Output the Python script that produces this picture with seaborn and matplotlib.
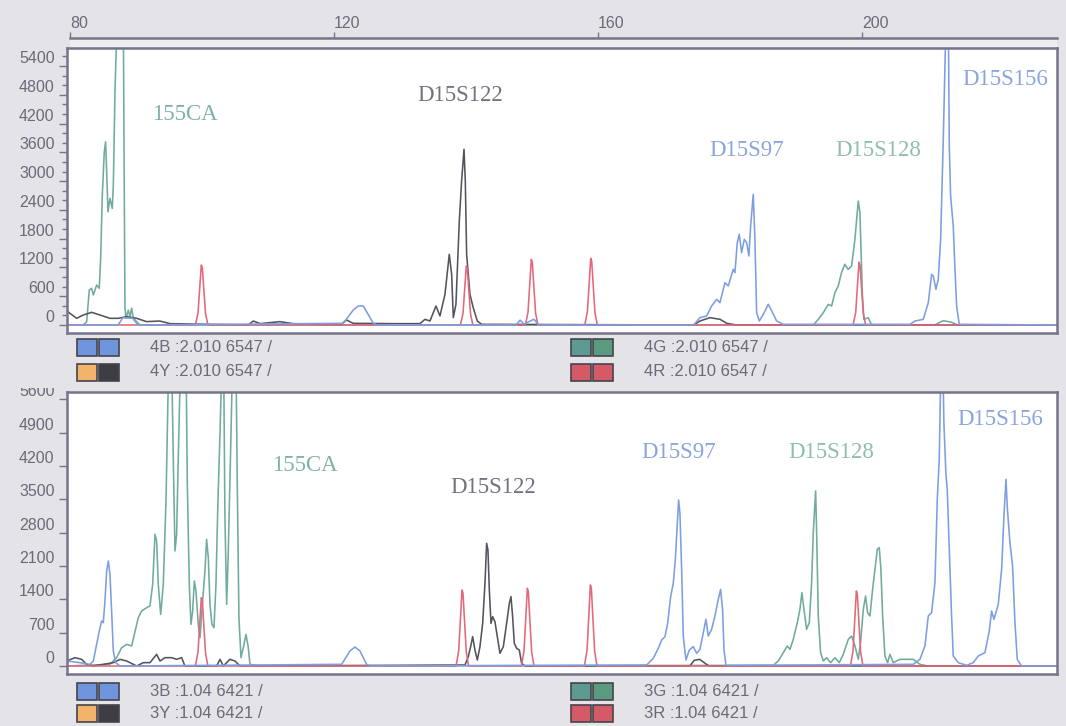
import pandas as pd
import seaborn as sns
import matplotlib.pyplot as plt
from matplotlib.patches import Rectangle
from matplotlib.ticker import MultipleLocator

# --- DONNEES (taille en pb, intensite en RFU) ---
SIZE_TICKS = [80, 120, 160, 200]
TOP_YTICKS = [0, 600, 1200, 1800, 2400, 3000, 3600, 4200, 4800, 5400]
BOT_YTICKS = [0, 700, 1400, 2100, 2800, 3500, 4200, 4900, 5600]

# run 4 (panneau du haut)
TOP_GREEN = [(79.5, 0), (82.0, 0), (82.53, 70), (82.93, 730), (83.28, 765), (83.54, 625), (84.04, 834),
             (84.44, 765), (84.65, 1390), (84.90, 2710), (85.20, 3614), (85.40, 3820), (85.61, 2990),
             (85.76, 2360), (86.06, 2640), (86.41, 2430), (86.57, 2920), (86.82, 4865), (87.17, 6500),
             (87.6, 9000), (88.08, 6500), (88.18, 3960), (88.33, 350), (88.48, 140), (88.84, 310),
             (89.09, 175), (89.34, 350), (89.6, 140), (90.6, 0), (192.62, 0), (193.38, 118), (194.14, 257),
             (194.9, 430), (195.4, 396), (195.9, 674), (196.4, 813), (196.9, 1091), (197.4, 1265),
             (197.9, 1160), (198.43, 1230), (198.93, 1786), (199.44, 2585), (199.69, 2342), (200.05, 674),
             (200.3, 118), (200.95, 153), (201.46, 0), (211.0, 0), (212.3, 90), (213.5, 60), (214.5, 0),
             (229.6, 0)]
TOP_BLACK = [(79.5, 300), (80.0, 243), (81.01, 139), (82.02, 208), (83.28, 264), (84.55, 208), (86.06, 139),
             (87.32, 139), (88.59, 174), (90.1, 139), (91.6, 70), (93.6, 83), (95.15, 28), (107.0, 0),
             (107.78, 83), (108.8, 28), (111.8, 70), (113.8, 28), (121.0, 0), (121.9, 104), (122.9, 35),
             (129.0, 28), (133.03, 28), (133.79, 118), (134.55, 83), (135.45, 396), (136.06, 188),
             (136.82, 640), (137.47, 1473), (137.83, 1056), (138.08, 153), (138.48, 431), (138.99, 2168),
             (139.34, 3002), (139.7, 3663), (139.9, 3002), (140.1, 1473), (140.6, 640), (141.1, 361),
             (141.72, 83), (142.37, 14), (174.5, 0), (175.45, 83), (176.97, 153), (178.5, 118), (179.5, 35),
             (181.0, 0), (229.6, 0)]
TOP_RED = [(79.5, 0), (99.0, 0), (99.4, 250), (99.65, 750), (99.9, 1251), (100.05, 1200), (100.3, 700),
           (100.55, 230), (100.9, 0), (139.15, 0), (139.55, 240), (139.8, 740), (140.05, 1230),
           (140.2, 1180), (140.45, 690), (140.7, 220), (141.05, 0), (149.0, 0), (149.4, 270), (149.65, 820),
           (149.9, 1369), (150.05, 1310), (150.3, 770), (150.55, 250), (150.9, 0), (158.0, 0), (158.4, 280),
           (158.65, 830), (158.9, 1390), (159.05, 1330), (159.3, 780), (159.55, 250), (159.9, 0),
           (198.65, 0), (199.05, 260), (199.3, 790), (199.55, 1310), (199.7, 1260), (199.95, 740),
           (200.2, 240), (200.55, 0), (229.6, 0)]
TOP_BLUE = [(79.5, 0), (87.3, 0), (88.0, 150), (89.5, 140), (90.3, 0), (121.4, 35), (122.93, 313),
            (123.69, 396), (124.45, 396), (125.96, 35), (126.5, 0), (147.6, 0), (148.2, 100), (148.8, 20),
            (150.3, 120), (151.0, 0), (174.5, 0), (175.45, 153), (176.46, 188), (177.22, 396), (177.98, 535),
            (178.48, 466), (179.24, 883), (179.74, 813), (180.5, 1161), (180.75, 1091), (181.11, 1717),
            (181.41, 1890), (181.76, 1508), (182.17, 1786), (182.52, 1717), (182.87, 1439), (183.13, 2064),
            (183.53, 2724), (183.78, 1786), (184.04, 257), (184.44, 83), (185.05, 222), (185.8, 431),
            (186.46, 257), (187.07, 83), (188.08, 14), (207.27, 14), (208.03, 83), (209.29, 118),
            (210.05, 466), (210.55, 1056), (210.8, 1022), (211.21, 744), (211.56, 952), (211.92, 1786),
            (212.32, 3871), (212.67, 6000), (212.85, 7500), (213.08, 6500), (213.23, 3733), (213.43, 2690),
            (213.83, 2064), (214.09, 1161), (214.34, 396), (214.74, 14), (229.6, 0)]

# run 3 (panneau du bas)
BOT_GREEN = [(79.5, 0), (86.06, 35), (87.07, 175), (87.83, 385), (88.59, 455), (89.34, 420), (90.35, 1015),
             (90.86, 1155), (91.62, 1225), (92.12, 1260), (92.53, 1715), (92.88, 2765), (93.13, 2625),
             (93.38, 1715), (93.74, 1085), (94.14, 1715), (94.55, 3465), (94.9, 6000), (95.15, 7800),
             (95.4, 6500), (95.66, 4305), (95.91, 2415), (96.16, 2765), (96.41, 4375), (96.77, 6500),
             (97.1, 7500), (97.58, 6500), (97.78, 3815), (98.08, 1715), (98.33, 875), (98.59, 1155),
             (98.84, 1785), (99.09, 1575), (99.44, 875), (99.7, 595), (100.1, 1365), (100.45, 1995),
             (100.7, 2660), (100.96, 2275), (101.21, 1295), (101.51, 875), (101.82, 805), (102.12, 1715),
             (102.42, 3465), (102.73, 4865), (103.03, 6500), (103.25, 7000), (103.48, 3115), (103.74, 1295),
             (103.99, 2415), (104.34, 4515), (104.65, 6500), (104.9, 7200), (105.15, 6500), (105.35, 3815),
             (105.6, 1015), (105.91, 175), (106.26, 385), (106.67, 665), (107.02, 385), (107.27, 35),
             (108.8, 0), (186.56, 14), (187.32, 105), (188.08, 280), (188.68, 420), (189.09, 350),
             (189.59, 560), (190.2, 910), (190.6, 1190), (190.9, 1540), (191.21, 1190), (191.61, 770),
             (192.02, 910), (192.37, 1750), (192.62, 2800), (192.98, 3675), (193.13, 2800), (193.38, 1050),
             (193.73, 280), (194.14, 105), (194.64, 175), (195.25, 70), (195.9, 175), (196.56, 70),
             (197.17, 245), (197.93, 560), (198.43, 630), (198.94, 420), (199.44, 140), (199.79, 490),
             (200.2, 1190), (200.55, 1470), (200.85, 1120), (201.21, 1050), (201.61, 1610), (201.97, 2030),
             (202.32, 2450), (202.62, 2485), (202.87, 2030), (203.13, 1050), (203.48, 210), (203.88, 70),
             (204.24, 245), (204.74, 70), (205.75, 140), (207.77, 140), (208.78, 35), (210.0, 0), (229.6, 0)]
BOT_BLACK = [(79.5, 105), (80.76, 175), (81.77, 140), (82.53, 35), (83.54, 0), (86.57, 70), (87.58, 140),
             (88.59, 105), (90.1, 0), (91.11, 70), (92.12, 70), (93.13, 245), (93.64, 105), (94.4, 175),
             (95.4, 175), (96.16, 140), (96.92, 175), (97.42, 0), (102.22, 0), (102.73, 140), (103.23, 0),
             (104.24, 140), (105.0, 105), (105.76, 0), (139.85, 21), (140.35, 196), (140.71, 406),
             (141.01, 616), (141.36, 336), (141.72, 126), (142.12, 406), (142.53, 896), (142.88, 1736),
             (143.13, 2576), (143.33, 2436), (143.54, 1596), (143.79, 896), (144.04, 1036), (144.39, 931),
             (144.75, 616), (145.15, 266), (145.66, 406), (146.16, 896), (146.57, 1316), (146.82, 1456),
             (147.07, 1036), (147.32, 476), (147.68, 371), (148.08, 336), (148.43, 56), (148.94, 0),
             (173.9, 0), (174.6, 120), (175.4, 140), (176.2, 60), (176.8, 0), (229.6, 0)]
BOT_RED = [(79.5, 0), (99.0, 0), (99.4, 290), (99.65, 860), (99.9, 1435), (100.05, 1380), (100.3, 800),
           (100.55, 260), (100.9, 0), (138.5, 0), (138.9, 320), (139.15, 960), (139.4, 1596), (139.55, 1530),
           (139.8, 900), (140.05, 290), (140.4, 0), (148.4, 0), (148.8, 330), (149.05, 980), (149.3, 1631),
           (149.45, 1560), (149.7, 920), (149.95, 300), (150.3, 0), (157.95, 0), (158.35, 340), (158.6, 1020),
           (158.85, 1701), (159.0, 1630), (159.25, 960), (159.5, 310), (159.85, 0), (198.25, 0),
           (198.65, 320), (198.9, 950), (199.15, 1575), (199.3, 1510), (199.55, 890), (199.8, 290),
           (200.15, 0), (229.6, 0)]
BOT_BLUE = [(79.5, 105), (81.5, 70), (83.03, 35), (83.54, 105), (84.04, 455), (84.44, 735), (84.8, 945),
            (85.05, 910), (85.3, 1365), (85.56, 1995), (85.81, 2205), (86.06, 1925), (86.31, 1155),
            (86.57, 315), (86.92, 70), (87.58, 0), (121.16, 35), (122.42, 315), (123.18, 399), (123.94, 315),
            (124.95, 35), (125.46, 0), (167.37, 21), (168.38, 161), (169.14, 371), (169.65, 546),
            (170.15, 616), (170.56, 896), (171.01, 1456), (171.41, 1736), (171.72, 2226), (172.02, 2996),
            (172.22, 3486), (172.42, 3206), (172.68, 2016), (172.93, 616), (173.33, 126), (173.84, 336),
            (174.44, 406), (174.95, 266), (175.45, 350), (175.96, 700), (176.36, 980), (176.71, 630),
            (177.22, 770), (177.72, 1050), (178.23, 1400), (178.58, 1610), (178.88, 1190), (179.09, 350),
            (179.39, 14), (207.77, 35), (208.78, 140), (209.54, 420), (210.05, 1050), (210.55, 1120),
            (211.06, 1750), (211.41, 3500), (211.71, 4340), (211.92, 6000), (212.17, 7000), (212.42, 5075),
            (212.72, 4025), (212.92, 3710), (213.23, 2450), (213.58, 1050), (213.83, 210), (214.59, 70),
            (215.85, 14), (216.86, 70), (217.62, 210), (218.63, 280), (219.29, 735), (219.64, 1155),
            (220.0, 980), (220.65, 1295), (221.16, 2030), (221.51, 3150), (221.82, 3920), (222.02, 3325),
            (222.42, 2590), (222.82, 2100), (223.18, 910), (223.53, 140), (224.19, 0), (229.6, 0)]

# noms des marqueurs et leur ancrage (pb, RFU)
MARKERS = ["155CA", "D15S122", "D15S97", "D15S128", "D15S156"]
TOP_MARKER_POS = [(92.4, 4380), (132.6, 4775), (176.8, 3630), (195.9, 3630), (215.15, 5110)]
BOT_MARKER_POS = [(110.6, 4220), (137.7, 3740), (166.5, 4475), (188.8, 4475), (214.5, 5170)]

TOP_LEGEND = ["4B :2.010 6547 /", "4Y :2.010 6547 /", "4G :2.010 6547 /", "4R :2.010 6547 /"]
BOT_LEGEND = ["3B :1.04 6421 /", "3Y :1.04 6421 /", "3G :1.04 6421 /", "3R :1.04 6421 /"]

# --- STYLE ---
W, H = 1066, 726
BG = "#e4e3e8"
SPINE = "#77738a"
TXT = "#6b6a78"
C_BLUE, C_GREEN, C_RED, C_BLACK = "#7d9ee0", "#6fab9e", "#e2687a", "#55545e"
MARKER_COLORS = ["#7fb2aa", "#727180", "#8aa4dc", "#8fbdb0", "#8aa4dc"]
SWATCHES = [("#6f95dc", "#6f95dc"), ("#f2b46a", "#3d3d44"), ("#5d9a92", "#5a9a7e"), ("#d45a68", "#d45a68")]

sns.set_theme(style="white")
plt.rcParams["font.family"] = ["Liberation Sans", "DejaVu Sans"]

fig = plt.figure(figsize=(W / 100, H / 100), dpi=100, facecolor=BG)


def box(x0, y0, x1, y1):
    return [x0 / W, 1 - y1 / H, (x1 - x0) / W, (y1 - y0) / H]


def draw_panel(rect, ylim, yticks, traces, marker_pos, minor=None):
    ax = fig.add_axes(rect)
    ax.set_facecolor("white")
    for pts, color in traces:
        df = pd.DataFrame(pts, columns=["bp", "rfu"])
        sns.lineplot(data=df, x="bp", y="rfu", ax=ax, color=color, lw=1.15,
                     estimator=None, sort=False)
    ax.set_xlim(79.55, 229.55)
    ax.set_ylim(*ylim)
    ax.set_xticks([])
    ax.set_yticks(yticks)
    if minor:
        ax.yaxis.set_minor_locator(MultipleLocator(minor))
    ax.tick_params(axis="y", which="major", direction="out", length=6, width=1,
                   color=SPINE, labelsize=11.5, labelcolor=TXT, pad=3, left=True)
    ax.tick_params(axis="y", which="minor", direction="out", length=3.5, width=1,
                   color=SPINE, left=True)
    plt.setp(ax.get_yticklabels(), va="bottom")
    ax.set_xlabel("")
    ax.set_ylabel("")
    for s in ax.spines.values():
        s.set_color(SPINE)
        s.set_linewidth(1.8)
    for name, (x, y), c in zip(MARKERS, marker_pos, MARKER_COLORS):
        ax.text(x, y, name, color=c, fontsize=16.5, va="center", ha="left",
                family=["Liberation Serif", "DejaVu Serif"])
    return ax


def draw_strip(y0, y1, labels, rows_y):
    ax = fig.add_axes(box(67, y0, 1057, y1))
    ax.set_xlim(67, 1057)
    ax.set_ylim(y1, y0)
    ax.set_facecolor(BG)
    ax.axis("off")
    for i, (lbl, (c1, c2)) in enumerate(zip(labels, SWATCHES)):
        col, row = divmod(i, 2)
        x0 = 77 + col * 494
        yc = rows_y[row]
        ax.add_patch(Rectangle((x0, yc - 8), 20, 17, facecolor=c1, edgecolor="#45444e", lw=1.2))
        ax.add_patch(Rectangle((x0 + 22, yc - 8), 20, 17, facecolor=c2, edgecolor="#45444e", lw=1.2))
        ax.text(x0 + 73, yc, lbl, color=TXT, fontsize=12, va="center", ha="left")


# regle des tailles (pb)
ruler = fig.add_axes(box(70, 38, 1057, 47))
ruler.set_facecolor("#edecf0")
ruler.set_xlim(80, 229.55)
ruler.set_yticks([])
ruler.set_xticks(SIZE_TICKS)
ruler.xaxis.tick_top()
ruler.tick_params(axis="x", direction="out", length=4, width=1, color=SPINE,
                  labelsize=11.5, labelcolor=TXT, pad=1, top=True, bottom=False)
plt.setp(ruler.get_xticklabels(), ha="left")
for name, s in ruler.spines.items():
    s.set_visible(name == "top")
    s.set_color(SPINE)
    s.set_linewidth(1.8)

draw_panel(box(67, 48, 1057, 333), (-167, 5775), TOP_YTICKS,
           [(TOP_GREEN, C_GREEN), (TOP_BLACK, C_BLACK), (TOP_RED, C_RED), (TOP_BLUE, C_BLUE)],
           TOP_MARKER_POS, minor=200)
draw_panel(box(67, 392, 1057, 674), (-168, 5754), BOT_YTICKS,
           [(BOT_GREEN, C_GREEN), (BOT_BLACK, C_BLACK), (BOT_RED, C_RED), (BOT_BLUE, C_BLUE)],
           BOT_MARKER_POS)

draw_strip(334, 391, TOP_LEGEND, (347, 372))
draw_strip(675, 726, BOT_LEGEND, (691, 713))

# le libelle 5600 est en partie masque par la bande de legende
fig.patches.append(Rectangle((0, 1 - 388 / H), 66 / W, 14 / H, transform=fig.transFigure,
                             facecolor=BG, edgecolor="none", zorder=5))

fig.savefig("out.png", dpi=100, facecolor=BG)
